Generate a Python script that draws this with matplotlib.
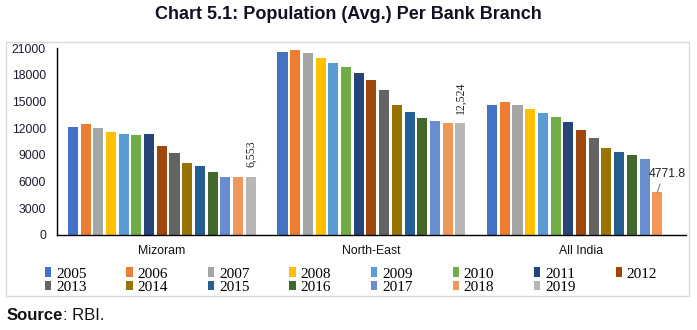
import numpy as np
import matplotlib.pyplot as plt
import matplotlib.patches as mpatches

# population served per bank branch, by year
regions = ['Mizoram', 'North-East', 'All India']
years = ['2005', '2006', '2007', '2008', '2009', '2010', '2011', '2012',
         '2013', '2014', '2015', '2016', '2017', '2018', '2019']
mizoram = [12100, 12430, 11980, 11600, 11380, 11230, 11310, 9995,
           9245, 8120, 7710, 7075, 6510, 6490, 6553]
north_east = [20515, 20740, 20475, 19875, 19315, 18865, 18190, 17405,
              16285, 14600, 13850, 13175, 12800, 12600, 12524]
all_india = [14635, 14935, 14635, 14150, 13700, 13215, 12690, 11790,
             10855, 9770, 9285, 8985, 8500, 4771.8, np.nan]

colors = ['#4472C4', '#ED7D31', '#A5A5A5', '#FFC000', '#5B9BD5', '#70AD47',
          '#264478', '#9E480E', '#636363', '#997300', '#255E91', '#43682B',
          '#698ED0', '#F1975A', '#B7B7B7']

sans = ['Liberation Sans', 'DejaVu Sans']
serif = ['Liberation Serif', 'DejaVu Serif']

fig = plt.figure(figsize=(6.97, 3.30), dpi=100)
ax = fig.add_axes([0.0818, 0.288, 0.9022, 0.5665])

data = np.array([mizoram, north_east, all_india])
x = np.arange(len(regions))
slot = 0.0606
bar_w = 0.048
offsets = (np.arange(len(years)) - (len(years) - 1) / 2) * slot

bars = []
for i, yr in enumerate(years):
    b = ax.bar(x + offsets[i], data[:, i], width=bar_w, color=colors[i], label=yr)
    bars.append(b)

ax.set_xlim(-0.5, 2.5)
ax.set_ylim(0, 21000)
ax.set_yticks(np.arange(0, 21001, 3000))
ax.set_xticks(x)
ax.set_xticklabels(regions, family=sans, fontsize=8.8, color='#111111')
for lbl in ax.get_yticklabels():
    lbl.set_family(sans)
    lbl.set_fontsize(8.8)
    lbl.set_color('#1a1a33')
ax.tick_params(axis='both', length=0)
ax.tick_params(axis='y', pad=8)
ax.tick_params(axis='x', pad=7)
for s in ['top', 'right']:
    ax.spines[s].set_visible(False)
for s in ['left', 'bottom']:
    ax.spines[s].set_color('black')
    ax.spines[s].set_linewidth(1.0)

# value labels on the latest bars
last = len(years) - 1
for r in [0, 1]:
    v = data[r, last]
    ax.annotate(f'{v:,.0f}', xy=(x[r] + offsets[last], v), xytext=(0, 7),
                textcoords='offset points', rotation=90, ha='center', va='bottom',
                family=serif, fontsize=8.5, color='#222222')
v = data[2, last - 1]
ax.annotate(f'{v}', xy=(x[2] + offsets[last - 1], v), xytext=(7, 9),
            textcoords='offset points', ha='center', va='bottom',
            family=sans, fontsize=8.8, color='#222222',
            arrowprops=dict(arrowstyle='-', color='#7f7f7f', lw=0.8,
                            shrinkA=1, shrinkB=0, relpos=(0.35, 0)))

# legend filled row by row (matplotlib fills columns first)
ncol = 8
order = []
for c in range(ncol):
    order += [i for i in (c, c + ncol) if i < len(years)]
fig.legend(handles=[bars[i] for i in order], labels=[years[i] for i in order],
           ncol=ncol, loc='center', bbox_to_anchor=(0.5036, 0.15), frameon=False,
           prop={'family': serif, 'size': 11},
           handlelength=0.42, handleheight=0.6, handletextpad=0.3,
           columnspacing=2.62, labelspacing=0.0, borderpad=0)

# chart border
fig.add_artist(mpatches.Rectangle((0.0086, 0.103), 0.98, 0.770,
                                  transform=fig.transFigure, fill=False,
                                  edgecolor='#d9d9d9', lw=1.0))

fig.text(0.5, 0.955, 'Chart 5.1: Population (Avg.) Per Bank Branch',
         ha='center', va='center', family=sans, fontsize=13,
         fontweight='bold', color='#111122')
src = fig.text(0.0096, 0.045, 'Source', ha='left', va='center', family=sans,
               fontsize=12, fontweight='bold', color='#111111')
fig.add_artist(plt.Annotation(': RBI.', xy=(1, 0.5), xycoords=src,
                              ha='left', va='center', family=sans,
                              fontsize=12, color='#111111'))

plt.savefig('out.png', dpi=100)
plt.close()
